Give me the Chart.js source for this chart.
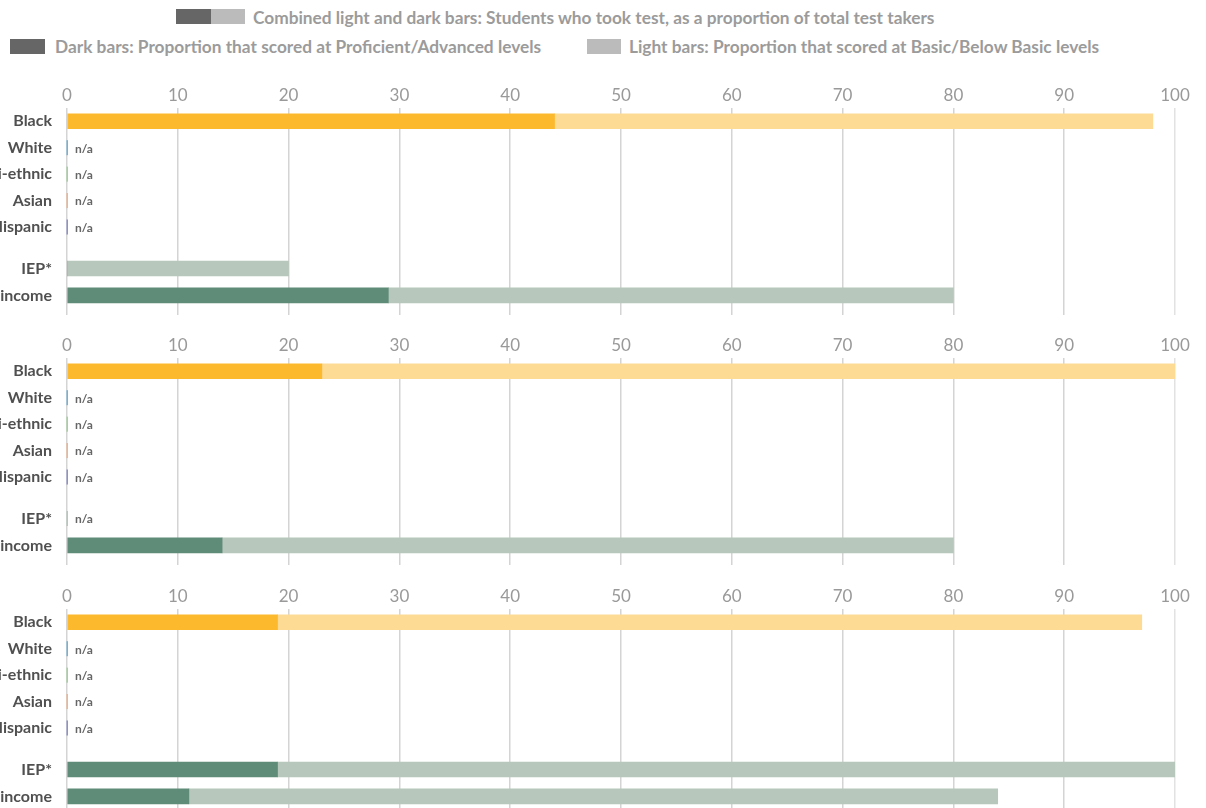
<!DOCTYPE html>
<html><head><meta charset="utf-8">
<script src="https://cdn.jsdelivr.net/npm/chart.js@4.4.1/dist/chart.umd.min.js"></script>
<style>
html,body{margin:0;padding:0;background:#fff;width:1206px;height:808px;overflow:hidden;position:relative;font-family:Lato,sans-serif;}
.leg{position:absolute;font-family:Lato,sans-serif;font-weight:bold;font-size:17.3px;color:#9b9b9b;white-space:nowrap;line-height:18px}
.sw{position:absolute;height:15px}
canvas{position:absolute;left:0}
</style></head><body>
<div class="sw" style="left:176px;top:9px;width:35px;background:#666666"></div>
<div class="sw" style="left:211px;top:9px;width:34px;background:#bbbbbb"></div>
<div class="leg" style="left:253px;top:9px">Combined light and dark bars: Students who took test, as a proportion of total test takers</div>
<div class="sw" style="left:10px;top:39px;width:35px;background:#666666"></div>
<div class="leg" style="left:55px;top:38px">Dark bars: Proportion that scored at Proficient/Advanced levels</div>
<div class="sw" style="left:587px;top:39px;width:34px;background:#bbbbbb"></div>
<div class="leg" style="left:629px;top:38px">Light bars: Proportion that scored at Basic/Below Basic levels</div>
<canvas id="c1" width="1206" height="250" style="top:80px"></canvas>
<canvas id="c2" width="1206" height="250" style="top:330px"></canvas>
<canvas id="c3" width="1206" height="250" style="top:581px"></canvas>
<script>
// ---- data ----
const categories = ['Black','White','Multi-ethnic','Asian','Hispanic','IEP*','Low-income'];
const xTicks = [0,10,20,30,40,50,60,70,80,90,100];
const panel1Proficient = [44, null, null, null, null, 0, 29];
const panel1Tested     = [98, null, null, null, null, 20, 80];
const panel2Proficient = [23, null, null, null, null, null, 14];
const panel2Tested     = [100, null, null, null, null, null, 80];
const panel3Proficient = [19, null, null, null, null, 19, 11];
const panel3Tested     = [97, null, null, null, null, 100, 84];

// ---- layout / style ----
const rowSlots = [0, 1, 2, 3, 4, 5.57, 6.59];
const darkColors  = ['#fdb92e','#74b3d8','#a2d39c','#f2b48c','#8f92c9','#5f8b79','#5f8b79'];
const lightColors = ['#fddb95','#74b3d8','#a2d39c','#f2b48c','#8f92c9','#b8c7bc','#b8c7bc'];
const stubColors  = ['#fdb92e','#74b3d8','#a2d39c','#f2b48c','#8f92c9','#b8c7bc','#b8c7bc'];

const naPlugin = {
  id: 'naStub',
  afterDatasetsDraw(chart, args, opts) {
    const tested = opts.tested || [];
    const ctx = chart.ctx;
    const xs = chart.scales.x, ys = chart.scales.y;
    const x0 = xs.getPixelForValue(0);
    ctx.save();
    tested.forEach((v, i) => {
      if (v !== null) return;
      const y = ys.getPixelForValue(rowSlots[i]);
      ctx.fillStyle = stubColors[i];
      ctx.fillRect(x0 - 0.5, y - 7.5, 1.5, 15);
      ctx.fillStyle = '#666666';
      ctx.font = 'bold 12px Lato';
      ctx.textAlign = 'left';
      ctx.textBaseline = 'middle';
      ctx.fillText('n/a', x0 + 8, y + 1);
    });
    ctx.restore();
  }
};

function makePanel(id, prof, tested) {
  const light = tested.map((t, i) => t === null ? null : t - (prof[i] || 0));
  return new Chart(document.getElementById(id), {
    type: 'bar',
    data: {
      datasets: [
        { label: 'Proficient/Advanced',
          data: prof.map((v, i) => ({ y: rowSlots[i], x: v })),
          backgroundColor: darkColors, barThickness: 15, grouped: false },
        { label: 'Basic/Below Basic',
          data: light.map((v, i) => ({ y: rowSlots[i], x: v })),
          backgroundColor: lightColors, barThickness: 15, grouped: false }
      ]
    },
    options: {
      indexAxis: 'y',
      responsive: false,
      animation: false,
      devicePixelRatio: 1,
      layout: { padding: { top: 2.8, right: 31, bottom: 15, left: 0 } },
      plugins: { legend: { display: false }, tooltip: { enabled: false }, naStub: { tested: tested } },
      scales: {
        x: {
          type: 'linear', position: 'top', min: 0, max: 100, stacked: true,
          afterBuildTicks: s => { s.ticks = xTicks.map(v => ({ value: v })); },
          ticks: { color: '#999999', font: { family: 'Lato', size: 17, weight: 'normal' }, padding: 2.3, maxRotation: 0 },
          grid: { drawTicks: false, lineWidth: 1.5,
                  color: c => (c.tick && c.tick.value === 100) ? '#e2e2e2' : '#d4d4d4' },
          border: { display: false }
        },
        y: {
          type: 'linear', reverse: true, min: -0.51, max: 7.33, stacked: true, offset: false,
          afterBuildTicks: s => { s.ticks = rowSlots.map(v => ({ value: v })); },
          afterFit: s => { s.width = 67; s.paddingTop = 0; s.paddingBottom = 0; },
          ticks: { autoSkip: false, color: '#505050', padding: 15,
                   font: { family: 'Lato', size: 16, weight: 'bold' },
                   callback: (v, i) => categories[i] },
          grid: { display: false, drawTicks: false, offset: false },
          border: { display: false }
        }
      }
    },
    plugins: [naPlugin]
  });
}

makePanel('c1', panel1Proficient, panel1Tested);
makePanel('c2', panel2Proficient, panel2Tested);
makePanel('c3', panel3Proficient, panel3Tested);
</script>
</body></html>
